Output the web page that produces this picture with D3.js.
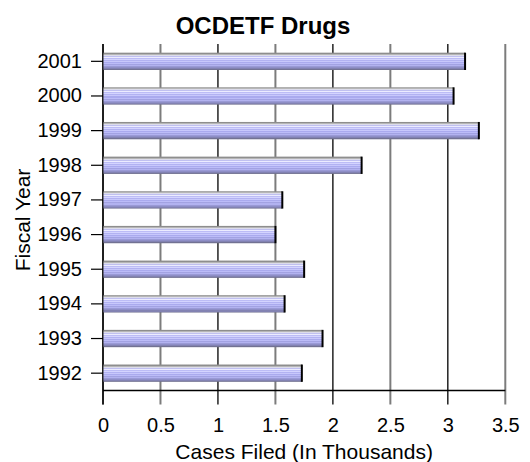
<!DOCTYPE html>
<html>
<head>
<meta charset="utf-8">
<script src="https://cdn.jsdelivr.net/npm/d3@7"></script>
<style>
  body { margin: 0; background: #fff; }
  svg { display: block; font-family: Arial, "Liberation Sans", sans-serif; }
</style>
</head>
<body>
<svg id="chart" width="530" height="462"></svg>
<script>
// ---- data ----
const years = ["2001", "2000", "1999", "1998", "1997", "1996", "1995", "1994", "1993", "1992"];
const casesFiled = [3.15, 3.05, 3.27, 2.25, 1.56, 1.50, 1.75, 1.58, 1.91, 1.73];
const xTicks = [0, 0.5, 1, 1.5, 2, 2.5, 3, 3.5];
const xTickLabels = ["0", "0.5", "1", "1.5", "2", "2.5", "3", "3.5"];
const chartTitle = "OCDETF Drugs";
const xTitle = "Cases Filed (In Thousands)";
const yTitle = "Fiscal Year";
// bar stripe colours (top to bottom)
const stripeColors = ["#8e8e8e", "#b6b6b6", "#dcdcec", "#c0c0f0", "#ececff", "#bcbcf6", "#d4d4ff",
  "#b2b2f2", "#c8c8fc", "#aaaaee", "#bcbcf8", "#a2a2e2", "#b2b2f0", "#9a9ad6", "#8e8ec6", "#8282b2", "#727292"];

const data = years.map((y, i) => ({ year: y, value: casesFiled[i] }));

const W = 530, H = 462;
const margin = { top: 44, right: 24.7, bottom: 71.5, left: 103 };
const svg = d3.select("#chart");

const x = d3.scaleLinear().domain([0, 3.5]).range([margin.left, W - margin.right]);
const y = d3.scaleBand().domain(years).range([margin.top, H - margin.bottom])
  .paddingInner(0.5).paddingOuter(0.25);

// gradient
const defs = svg.append("defs");
const grad = defs.append("linearGradient").attr("id", "barGrad")
  .attr("x1", 0).attr("y1", 0).attr("x2", 0).attr("y2", 1);
const n = stripeColors.length;
stripeColors.forEach((c, i) => {
  grad.append("stop").attr("offset", i / n).attr("stop-color", c);
  grad.append("stop").attr("offset", (i + 1) / n).attr("stop-color", c);
});

const plotBottom = H - margin.bottom;

// gridlines (extend below axis as tick marks)
svg.append("g").selectAll("line").data(xTicks).join("line")
  .attr("x1", d => x(d)).attr("x2", d => x(d))
  .attr("y1", margin.top).attr("y2", plotBottom + 14)
  .attr("stroke", (d, i) => i % 2 === 1 ? "#7c7c7c" : "#000")
  .attr("stroke-width", (d, i) => i % 2 === 1 ? 2 : 1.3);

// bottom axis line
svg.append("line")
  .attr("x1", x(0)).attr("x2", x(3.5))
  .attr("y1", plotBottom).attr("y2", plotBottom)
  .attr("stroke", "#000").attr("stroke-width", 1.3);

// left axis
const yAxis = d3.axisLeft(y).tickSize(12).tickPadding(9);
const gy = svg.append("g").attr("transform", `translate(${margin.left},0)`).call(yAxis);
gy.select(".domain").remove();
gy.append("line").attr("x1", 0).attr("x2", 0)
  .attr("y1", margin.top).attr("y2", plotBottom + 14)
  .attr("stroke", "#000").attr("stroke-width", 1.3);
gy.selectAll(".tick line").attr("stroke", "#000").attr("stroke-width", 1.2);
gy.selectAll(".tick text").attr("font-size", 20).attr("fill", "#000")
  .attr("font-family", "Arial, 'Liberation Sans', sans-serif");

// x tick labels
const xAxis = d3.axisBottom(x).tickValues(xTicks).tickFormat((d, i) => xTickLabels[i])
  .tickSize(14).tickPadding(13);
const gx = svg.append("g").attr("transform", `translate(0,${plotBottom})`).call(xAxis);
gx.select(".domain").remove();
gx.selectAll(".tick line").remove();
gx.selectAll(".tick text").attr("font-size", 20).attr("fill", "#000")
  .attr("font-family", "Arial, 'Liberation Sans', sans-serif");

// bars
const bars = svg.append("g").selectAll("g").data(data).join("g");
bars.append("rect")
  .attr("x", x(0) + 0.5)
  .attr("y", d => y(d.year))
  .attr("width", d => x(d.value) - x(0) - 0.5)
  .attr("height", y.bandwidth())
  .attr("fill", "url(#barGrad)");
bars.append("line")
  .attr("x1", d => x(d.value)).attr("x2", d => x(d.value))
  .attr("y1", d => y(d.year)).attr("y2", d => y(d.year) + y.bandwidth())
  .attr("stroke", "#000").attr("stroke-width", 2);

// titles
svg.append("text").attr("x", 263).attr("y", 34)
  .attr("text-anchor", "middle").attr("font-size", 24).attr("font-weight", "bold")
  .text(chartTitle);
svg.append("text").attr("x", (x(0) + x(3.5)) / 2).attr("y", 459)
  .attr("text-anchor", "middle").attr("font-size", 21)
  .text(xTitle);
svg.append("text").attr("transform", `translate(30,220) rotate(-90)`)
  .attr("text-anchor", "middle").attr("font-size", 21)
  .text(yTitle);
</script>
</body>
</html>
